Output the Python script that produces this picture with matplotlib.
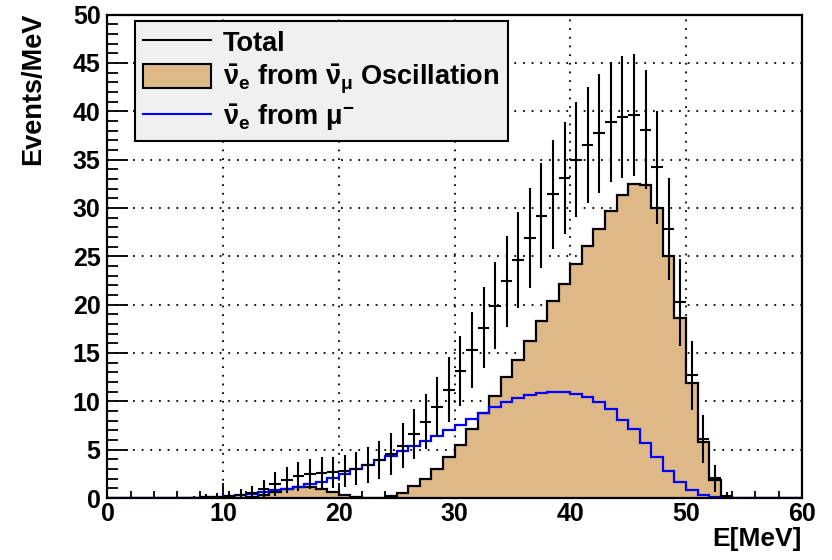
import numpy as np
import matplotlib
matplotlib.use("Agg")
import matplotlib.pyplot as plt
from matplotlib.lines import Line2D
from matplotlib.patches import Patch
from matplotlib.ticker import MultipleLocator
from matplotlib.font_manager import FontProperties

# ---------------- data (1 MeV bins, 0..60 MeV) ----------------
bin_edges = list(range(0, 61))

osc_counts = [0, 0, 0, 0, 0, 0, 0, 0, 0, 0,          # 0-9
              0.05, 0.05, 0.1, 0.3, 0.65, 0.9, 1.1, 1.1, 0.9, 0.6,   # 10-19
              0.3, 0.1, 0.0, 0.0, 0.2, 0.55, 1.2, 2.0, 3.0, 4.2,      # 20-29
              5.5, 7.1, 8.8, 10.5, 12.5, 14.3, 16.2, 18.3, 20.4, 22.1,  # 30-39
              24.2, 26.1, 27.8, 29.7, 31.3, 32.5, 32.4, 30.0, 25.0, 18.6,  # 40-49
              11.9, 5.8, 1.9, 0.15, 0, 0, 0, 0, 0, 0]             # 50-59

mu_counts = [0, 0, 0, 0, 0, 0, 0.01, 0.03, 0.08, 0.15,       # 0-9
             0.2, 0.3, 0.45, 0.6, 0.82, 0.95, 1.15, 1.4, 1.7, 2.05,  # 10-19
             2.5, 2.95, 3.4, 3.9, 4.35, 4.85, 5.4, 5.9, 6.4, 7.0,   # 20-29
             7.6, 8.2, 8.8, 9.4, 9.9, 10.3, 10.65, 10.9, 11.0, 11.0,  # 30-39
             10.8, 10.4, 9.9, 9.2, 8.1, 7.1, 5.7, 4.2, 2.8, 1.65,   # 40-49
             0.8, 0.3, 0.12, 0.05, 0.01, 0, 0, 0, 0, 0]          # 50-59

x_ticks_major = [0, 10, 20, 30, 40, 50, 60]
x_tick_labels = ["0", "10", "20", "30", "40", "50", "60"]
y_ticks_major = [0, 5, 10, 15, 20, 25, 30, 35, 40, 45, 50]
y_tick_labels = ["0", "5", "10", "15", "20", "25", "30", "35", "40", "45", "50"]

legend_labels = ["Total",
                 r"$\bar{\nu}_{e}$ from $\bar{\nu}_{\mu}$ Oscillation",
                 r"$\bar{\nu}_{e}$ from $\mu^{-}$"]

# ---------------- style ----------------
plt.rcParams["font.family"] = ["Liberation Sans", "DejaVu Sans"]
plt.rcParams["font.weight"] = "bold"
plt.rcParams["mathtext.fontset"] = "custom"
plt.rcParams["mathtext.rm"] = "Liberation Sans:bold"
plt.rcParams["mathtext.it"] = "Liberation Sans:bold"
plt.rcParams["mathtext.bf"] = "Liberation Sans:bold"
plt.rcParams["mathtext.sf"] = "Liberation Sans:bold"

TAN = "#DEB887"
tick_font = FontProperties(family="Liberation Sans", weight="bold", size=18)

edges = np.array(bin_edges, dtype=float)
osc = np.array(osc_counts)
mu = np.array(mu_counts)
total = osc + mu                     # total histogram = sum of components
err = np.sqrt(total)                 # Poisson errors as drawn by the histogram
centers = 0.5 * (edges[:-1] + edges[1:])

fig = plt.figure(figsize=(8.32, 5.6), dpi=100)
ax = fig.add_axes([0.1292, 0.1107, 0.8344, 0.8634])

ax.stairs(osc, edges, fill=True, facecolor=TAN, edgecolor="none", zorder=2)
ax.stairs(osc, edges, color="black", linewidth=1.6, zorder=3)
ax.stairs(mu, edges, color="#0000FF", linewidth=1.6, zorder=4)

m = total > 0.02
ax.errorbar(centers[m], total[m], yerr=err[m], xerr=0.5, fmt="none",
            ecolor="black", elinewidth=1.5, capsize=0, zorder=5)

ax.set_xlim(0, 60)
ax.set_ylim(0, 50)
ax.xaxis.set_minor_locator(MultipleLocator(2))
ax.yaxis.set_minor_locator(MultipleLocator(1))

ax.grid(True, which="major", color="black", linestyle=(0, (1, 3.8)), linewidth=1.3, zorder=1)
ax.set_axisbelow(True)

ax.tick_params(axis="both", which="both", direction="in", top=False, right=False,
               width=1.3, colors="black")
ax.tick_params(axis="y", which="major", length=15, pad=5)
ax.tick_params(axis="y", which="minor", length=8)
ax.tick_params(axis="x", which="major", length=10.5, pad=3)
ax.tick_params(axis="x", which="minor", length=5)

ax.set_xticks(x_ticks_major)
ax.set_xticklabels(x_tick_labels, fontproperties=tick_font)
ax.set_yticks(y_ticks_major)
ax.set_yticklabels(y_tick_labels, fontproperties=tick_font)

for sp in ax.spines.values():
    sp.set_linewidth(1.6)
    sp.set_zorder(6)

ax.set_xlabel("E[MeV]", loc="right", fontsize=19, fontweight="bold")
ax.xaxis.set_label_coords(1.0, -0.060)
ax.set_ylabel("Events/MeV", loc="top", fontsize=19.5, fontweight="bold")
ax.yaxis.set_label_coords(-0.088, 1.003)

handles = [Line2D([], [], color="black", linewidth=1.5),
           Patch(facecolor=TAN, edgecolor="black", linewidth=1.5),
           Line2D([], [], color="#0000FF", linewidth=1.5)]
leg = ax.legend(handles, legend_labels, loc="upper left",
                bbox_to_anchor=(0.0396, 0.9866), borderaxespad=0,
                frameon=True, fancybox=False, framealpha=1,
                facecolor="#f0f0f0", edgecolor="black",
                prop={"size": 19.5, "weight": "bold"},
                handlelength=2.5, handleheight=1.0, handletextpad=0.45,
                labelspacing=0.22, borderpad=0.3)
leg.get_frame().set_linewidth(1.5)
leg.set_zorder(10)

fig.savefig("out.png", dpi=100)
